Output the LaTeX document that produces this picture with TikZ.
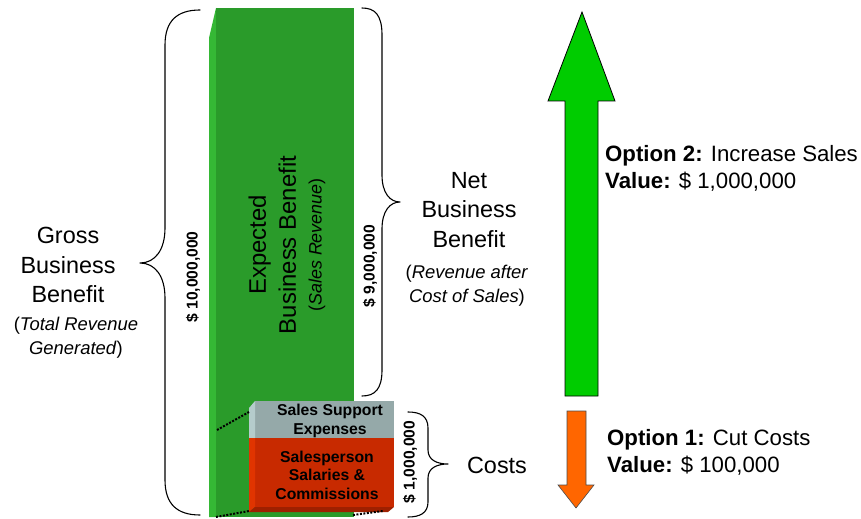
\documentclass[tikz,border=0pt]{standalone}
\usepackage{fontspec}
\setmainfont{Liberation Sans}
\begin{document}
\begin{tikzpicture}[x=1bp,y=-1bp,
  bigtext/.style={align=center, inner sep=0pt, font=\fontsize{23.5}{30}\selectfont},
  notetext/.style={align=center, inner sep=0pt, font=\fontsize{18.5}{24}\selectfont},
  amount/.style={rotate=90, inner sep=0pt, font=\fontsize{15.7}{18}\selectfont\bfseries},
  boxtext/.style={align=center, inner sep=0pt, font=\fontsize{15.8}{18.5}\selectfont\bfseries},
  option/.style={align=left, anchor=west, inner sep=0pt, font=\fontsize{22.3}{27}\selectfont},
  bracepath/.style={draw=black, line width=1.1pt, line cap=round, line join=round},
  dotline/.style={draw=black, line width=2pt, dash pattern=on 2pt off 1.5pt}]
\definecolor{barmain}{HTML}{2A9B2A}
\definecolor{barside}{HTML}{35B835}
\definecolor{graymain}{HTML}{95A9A9}
\definecolor{grayside}{HTML}{B5CCCC}
\definecolor{redmain}{HTML}{C82A00}
\definecolor{redside}{HTML}{E03400}
\definecolor{redbottom}{HTML}{9E2000}
\definecolor{upgreen}{HTML}{00CC00}
\definecolor{downorange}{HTML}{FF6600}
\useasboundingbox (0,0) rectangle (861,519);

% revenue bar
\fill[barside] (209,38) -- (216,8) -- (216,517) -- (209,517) -- cycle;
\fill[barmain] (216,8) rectangle (354,517);

% cost block: support expenses on top of salaries
\fill[graymain] (255,401) rectangle (394,438);
\fill[grayside] (249,408) -- (255,401) -- (255,438) -- (249,438) -- cycle;
\fill[redmain] (255,438) rectangle (394,507);
\fill[redside] (249,438) -- (255,438) -- (255,507) -- (249,512) -- cycle;
\fill[redbottom] (249,512) -- (255,507) -- (394,507) -- (388,512) -- cycle;

% perspective guides
\draw[dotline] (217,430) -- (249,412);
\draw[dotline] (216,517) -- (249,511);
\draw[dotline] (353,515) -- (383,511);

% braces
\draw[bracepath] (200,10) .. controls (178,10) and (165,20) .. (165,45) -- (165,228)
  .. controls (165,250) and (155,263) .. (140,263)
  .. controls (155,263) and (165,276) .. (165,298) -- (165,480)
  .. controls (165,505) and (178,515) .. (200,515);
\draw[bracepath] (362,8) .. controls (375,8) and (382,15) .. (382,35) -- (382,175)
  .. controls (382,193) and (390,202) .. (400,202)
  .. controls (390,202) and (382,211) .. (382,229) -- (382,370)
  .. controls (382,389) and (375,396) .. (362,396);
\draw[bracepath] (408,412) .. controls (420,412) and (428,416) .. (428,428) -- (428,450)
  .. controls (428,460) and (437,464) .. (448,464)
  .. controls (437,464) and (428,468) .. (428,478) -- (428,502)
  .. controls (428,513) and (420,517) .. (408,517);

% option arrows
\draw[fill=upgreen, draw=black, line width=0.8pt, line join=miter]
  (582,12) -- (615,101) -- (598,101) -- (598,396) -- (565,396) -- (565,101) -- (548,101) -- cycle;
\draw[fill=downorange, draw=black!70, line width=0.6pt, line join=miter]
  (567,411) -- (586,411) -- (586,485) -- (594,485) -- (576,508) -- (558,485) -- (567,485) -- cycle;

% labels
\node[bigtext] (gross) at (68,265) {Gross\\Business\\Benefit};
\node[notetext] (grossnote) at (76,338) {(\textit{Total Revenue}\\\textit{Generated})};
\node[bigtext] (net) at (469,210) {Net\\Business\\Benefit};
\node[notetext] (netnote) at (467,286) {(\textit{Revenue after}\\\textit{Cost of Sales})};
\node[bigtext] (costs) at (497,465) {Costs};

\node[rotate=90, align=center, inner sep=0pt, font=\fontsize{24}{30}\selectfont] (expected) at (287,245)
  {Expected\\Business Benefit\\[-4pt]{\fontsize{18}{20}\selectfont(\textit{Sales Revenue})}};

\node[amount] (gross amount) at (193,277) {\$ 10,000,000};
\node[amount] (net amount) at (370,266) {\$ 9,000,000};
\node[amount] (cost amount) at (410,462) {\$ 1,000,000};

\node[boxtext] (support) at (330,421) {Sales Support\\Expenses};
\node[boxtext] (salaries) at (327,475) {Salesperson\\Salaries \&\\Commissions};

\node[option] (opt2) at (605,168.5) {\textbf{Option 2:} Increase Sales\\\textbf{Value:} \$ 1,000,000};
\node[option] (opt1) at (607,452.5) {\textbf{Option 1:} Cut Costs\\\textbf{Value:} \$ 100,000};
\end{tikzpicture}
\end{document}
